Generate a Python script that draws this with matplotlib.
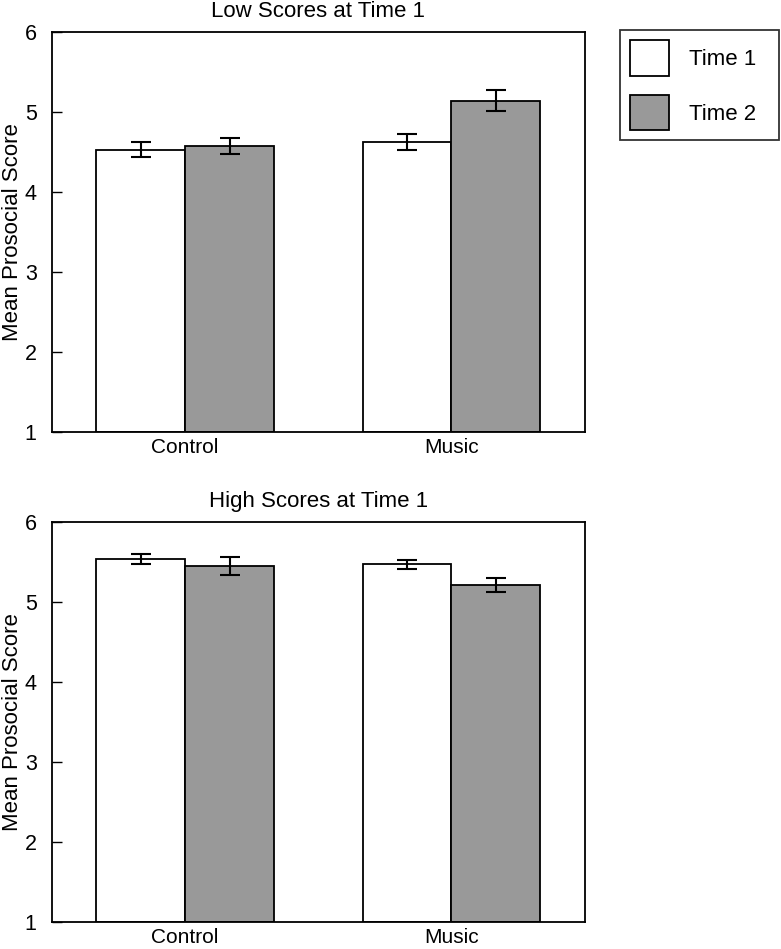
import matplotlib.pyplot as plt
from matplotlib.patches import Patch

plt.rcParams['font.family'] = ['Liberation Sans', 'DejaVu Sans']

groups = ['Control', 'Music']
low_t1 = [4.53, 4.62]
low_t1_err = [0.09, 0.10]
low_t2 = [4.57, 5.14]
low_t2_err = [0.10, 0.13]
high_t1 = [5.54, 5.47]
high_t1_err = [0.06, 0.06]
high_t2 = [5.45, 5.21]
high_t2_err = [0.11, 0.09]

fig = plt.figure(figsize=(7.81, 9.49), dpi=100)
ax1 = fig.add_axes([0.0666, 0.5448, 0.682, 0.4215])
ax2 = fig.add_axes([0.0666, 0.02845, 0.682, 0.4215])

w = 1 / 3
x = [1, 2]


def draw(ax, t1, e1, t2, e2, title):
    ekw = dict(elinewidth=1.5, capthick=1.5, capsize=7, ecolor='black')
    ax.bar([i - w / 2 for i in x], [v - 1 for v in t1], w, bottom=1,
           color='white', edgecolor='black', linewidth=1.3,
           yerr=e1, error_kw=ekw)
    ax.bar([i + w / 2 for i in x], [v - 1 for v in t2], w, bottom=1,
           color='#999999', edgecolor='black', linewidth=1.3,
           yerr=e2, error_kw=ekw)
    ax.set_xlim(0.5, 2.5)
    ax.set_ylim(1, 6)
    ax.set_xticks(x)
    ax.set_xticklabels(groups)
    ax.set_yticks([1, 2, 3, 4, 5, 6])
    ax.tick_params(axis='y', direction='in', length=7, width=1, labelsize=15.5, pad=11)
    ax.tick_params(axis='x', length=0, labelsize=15, pad=4)
    for s in ax.spines.values():
        s.set_linewidth(1.3)
    ax.set_ylabel('Mean Prosocial Score', fontsize=16, labelpad=1.5)
    ax.set_title(title, fontsize=16, pad=11)


draw(ax1, low_t1, low_t1_err, low_t2, low_t2_err, 'Low Scores at Time 1')
draw(ax2, high_t1, high_t1_err, high_t2, high_t2_err, 'High Scores at Time 1')

handles = [Patch(facecolor='white', edgecolor='black', linewidth=1.3),
           Patch(facecolor='#999999', edgecolor='black', linewidth=1.3)]
leg = fig.legend(handles, ['Time 1', 'Time 2'], loc='upper left',
                 bbox_to_anchor=(620 / 781, 1 - 142 / 949, 159 / 781, 112 / 949),
                 mode='expand', fontsize=16, frameon=True, fancybox=False,
                 handlelength=1.75, handleheight=2.1, handletextpad=0.9,
                 labelspacing=0.85, borderpad=0.45, borderaxespad=0)
leg.get_frame().set_edgecolor('black')
leg.get_frame().set_linewidth(1.3)

fig.savefig('out.png', dpi=100)
